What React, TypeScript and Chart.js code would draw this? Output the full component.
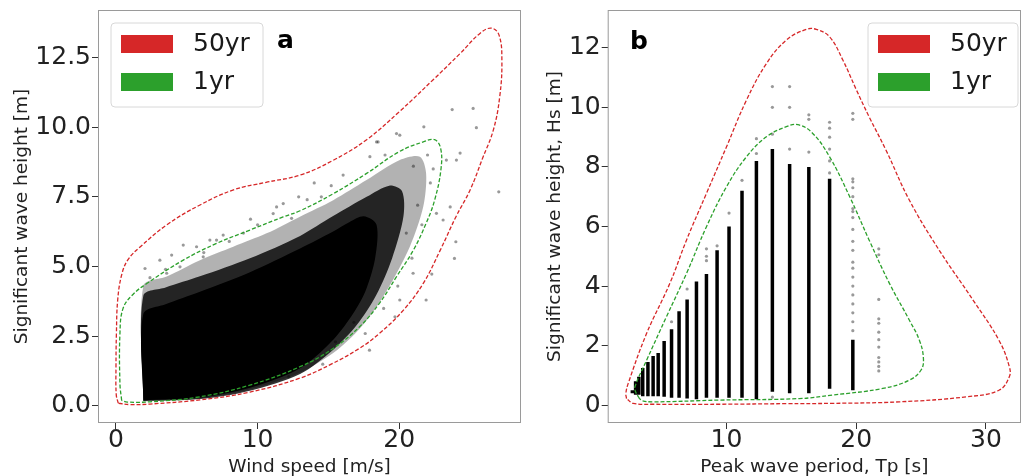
import React, { useEffect, useRef } from "react";
import { Chart, registerables } from "chart.js";

Chart.register(...registerables);

type P = [number, number];

const FONT = "'DejaVu Sans', sans-serif";
const RED = "#d62728";
const GREEN = "#2ca02c";
const LEGEND_LABELS = ["50yr", "1yr"];

// ---------- Panel a: wind speed vs Hs ----------
const A_X_TICKS = [0, 10, 20];
const A_Y_TICKS = [0, 2.5, 5, 7.5, 10, 12.5];
const A_X_TITLE = "Wind speed [m/s]";
const A_Y_TITLE = "Significant wave height [m]";
const A_LABEL = "a";

const A_50YR: P[] = [
  [0.16, 0.1], [0.02, 0.4], [0.0, 1.4], [0.03, 2.6], [0.12, 3.8], [0.4, 4.7], [0.85, 5.25],
  [1.7, 5.7], [3.6, 6.5], [5.9, 7.2], [8.3, 7.75], [10.6, 8.02], [13.0, 8.28], [15.3, 8.8],
  [17.7, 9.55], [20.0, 10.55], [22.4, 11.7], [24.3, 12.64], [25.7, 13.36], [26.5, 13.55],
  [27.05, 13.3], [27.25, 12.4], [27.1, 11.1], [26.65, 9.9], [25.9, 8.9], [25.0, 7.74],
  [24.0, 6.78], [22.9, 5.59], [21.7, 4.4], [20.3, 3.44], [18.6, 2.6], [17.2, 2.07],
  [15.2, 1.5], [13.0, 1.0], [9.46, 0.5], [5.93, 0.22], [2.4, 0.07], [1.0, 0.05], [0.16, 0.1],
];

const A_1YR: P[] = [
  [0.4, 0.2], [0.28, 0.8], [0.28, 2.6], [0.5, 3.5], [1.2, 4.0], [2.2, 4.4], [4.75, 5.23],
  [7.1, 5.83], [9.46, 6.31], [11.8, 6.78], [13.0, 7.0], [15.3, 7.6], [17.7, 8.34], [20.0, 9.12],
  [21.7, 9.47], [22.5, 9.55], [22.92, 9.25], [22.95, 8.5], [22.5, 7.38], [21.9, 6.55],
  [21.0, 5.59], [19.8, 4.63], [18.6, 3.68], [17.2, 2.84], [15.3, 2.05], [13.0, 1.41], [9.46, 0.75],
  [5.93, 0.33], [2.4, 0.15], [0.8, 0.14], [0.4, 0.2],
];

// densest part of the point cloud
const A_CLOUD_CORE: P[] = [
  [1.93, 0.2], [1.93, 3.3], [3.5, 3.65], [5.93, 4.1], [9.46, 4.8], [13.0, 5.65], [15.3, 6.25],
  [16.5, 6.6], [17.5, 6.8], [18.4, 6.5], [18.3, 5.3], [17.6, 4.1], [16.6, 3.2], [15.2, 2.3],
  [13.0, 1.35], [9.46, 0.65], [5.93, 0.3], [1.93, 0.2],
];
// medium density fringe
const A_CLOUD_MID: P[] = [
  [1.93, 0.18], [1.93, 3.95], [3.5, 4.25], [5.93, 4.65], [9.46, 5.3], [13.0, 6.1], [15.3, 6.8],
  [17.7, 7.5], [19.3, 7.9], [20.2, 7.7], [20.3, 6.8], [19.5, 5.3], [18.4, 4.0], [17.0, 2.9],
  [15.3, 2.0], [13.0, 1.15], [9.46, 0.55], [5.93, 0.25], [1.93, 0.18],
];
// sparse outer fringe
const A_CLOUD_OUTER: P[] = [
  [1.93, 0.16], [1.93, 4.3], [3.58, 4.64], [5.93, 5.23], [8.28, 5.71], [10.63, 6.19],
  [12.99, 6.79], [15.34, 7.38], [17.69, 8.1], [20.04, 8.82], [21.46, 8.94], [21.9, 8.34],
  [21.7, 7.15], [20.75, 5.71], [19.2, 4.2], [17.6, 3.0], [15.6, 2.0], [13.0, 1.2],
  [9.46, 0.6], [5.93, 0.27], [1.93, 0.16],
];
// isolated points
const A_SPARSE: P[] = [
  [23.74, 10.63], [25.22, 10.67], [25.45, 9.98], [21.74, 10.01], [27.03, 7.68], [24.0, 5.89],
  [23.9, 5.29], [22.3, 4.73], [21.9, 3.8], [23.6, 7.14], [24.3, 9.07], [24.04, 8.82],
  [19.81, 9.77], [20.04, 9.71], [18.51, 9.47], [17.93, 8.94], [16.04, 8.28], [23.33, 8.82],
  [23.1, 6.67], [22.63, 6.91], [18.4, 9.47], [20.98, 4.76], [20.04, 3.8], [17.9, 2.0],
  [19.7, 3.2], [2.05, 4.93], [3.1, 5.23], [3.93, 5.41], [4.75, 5.77], [5.69, 5.71], [6.63, 5.95],
  [7.57, 6.13], [3.58, 4.76], [4.52, 4.99], [6.16, 5.35], [7.1, 5.95],
  [11.1, 6.9], [11.34, 7.14], [11.81, 7.26], [12.4, 6.73], [9.0, 6.2], [10.0, 6.5],
  [13.5, 7.4], [14.5, 7.5], [15.2, 7.9], [19.0, 9.0], [21.0, 8.6], [22.2, 8.0], [21.3, 7.2],
  [20.5, 6.2], [16.8, 3.0], [15.5, 2.3], [13.5, 1.6], [11.0, 1.0], [2.4, 4.6], [3.5, 4.9],
  [6.2, 5.5], [8.0, 5.9], [22.0, 9.0], [22.4, 8.5], [21.6, 6.5], [20.9, 5.3], [19.9, 4.3],
  [18.9, 3.5], [17.6, 2.6], [14.6, 1.5], [12.2, 1.05], [9.5, 6.7], [12.9, 7.5], [14.0, 8.0],
];

// ---------- Panel b: Tp vs Hs ----------
const B_X_TICKS = [10, 20, 30];
const B_Y_TICKS = [0, 2, 4, 6, 8, 10, 12];
const B_X_TITLE = "Peak wave period, Tp [s]";
const B_Y_TITLE = "Significant wave height, Hs [m]";
const B_LABEL = "b";

const B_COL_TP = [2.75, 3.0, 3.25, 3.55, 3.95, 4.35, 4.74, 5.2, 5.77, 6.35, 6.97, 7.69, 8.46, 9.28, 10.2, 11.2, 12.31, 13.54, 14.87, 16.35, 17.95, 19.74];
const B_COL_LO = [0.4, 0.35, 0.35, 0.3, 0.3, 0.3, 0.3, 0.28, 0.25, 0.25, 0.22, 0.2, 0.25, 0.25, 0.25, 0.25, 0.2, 0.45, 0.4, 0.4, 0.55, 0.5];
const B_COL_HI = [0.5, 0.8, 0.95, 1.25, 1.45, 1.65, 1.75, 2.15, 2.55, 3.15, 3.55, 4.15, 4.4, 5.2, 6.0, 7.2, 8.2, 8.6, 8.1, 8.0, 7.6, 2.2];

const B_SPARSE: P[] = [
  [5.77, 2.8], [6.97, 3.9], [8.46, 4.85], [8.46, 5.0], [8.46, 5.25], [9.28, 5.35], [10.2, 6.45],
  [11.2, 7.55], [12.31, 8.45], [12.31, 8.95], [13.54, 9.1], [13.54, 10.0], [13.54, 10.7],
  [13.54, 0.27], [14.87, 8.6], [14.87, 10.0], [14.87, 10.7], [16.35, 8.5], [16.35, 9.6],
  [16.35, 9.75], [17.95, 7.8], [17.95, 8.2], [17.95, 8.6], [17.95, 9.0], [17.95, 9.3],
  [17.95, 9.5], [19.74, 9.8], [19.74, 9.6], [19.74, 7.6], [19.74, 7.5], [19.74, 7.3],
  [19.74, 7.0], [19.74, 6.6], [19.74, 6.5], [19.74, 6.3], [19.74, 5.9], [19.74, 5.5],
  [19.74, 5.2], [19.74, 4.8], [19.74, 4.6], [19.74, 4.3], [19.74, 4.0], [19.74, 3.7],
  [19.74, 3.4], [19.74, 3.1], [19.74, 2.8], [19.74, 2.5], [21.74, 5.25], [21.74, 5.05],
  [21.74, 3.55], [21.74, 2.9], [21.74, 2.75], [21.74, 2.45], [21.74, 2.2], [21.74, 1.95],
  [21.74, 1.6], [21.74, 1.45], [21.74, 1.3], [21.74, 1.15],
];

const B_50YR: P[] = [
  [2.3, 0.22], [2.25, 0.39], [2.43, 0.73], [3.85, 2.41], [5.64, 4.09], [6.92, 5.54], [8.46, 7.11],
  [10.0, 8.67], [11.54, 10.24], [13.08, 11.47], [14.62, 12.26], [16.15, 12.62], [16.92, 12.62],
  [17.95, 12.37], [18.97, 11.59], [20.0, 10.6], [21.0, 9.68], [22.3, 8.56], [24.1, 6.88],
  [26.4, 5.2], [29.0, 3.53], [31.0, 2.18], [31.8, 1.29], [31.8, 0.95], [31.0, 0.5], [28.5, 0.28],
  [23.3, 0.11], [18.2, 0.06], [14.6, 0.05], [9.5, 0.03], [4.35, 0.03], [2.82, 0.06], [2.3, 0.22],
];

const B_1YR: P[] = [
  [3.3, 0.22], [3.0, 0.45], [2.95, 0.62], [3.85, 1.51], [5.38, 2.97], [6.92, 4.42], [8.46, 5.99],
  [10.0, 7.33], [11.54, 8.34], [13.08, 9.01], [14.62, 9.35], [15.5, 9.42], [16.6, 9.15],
  [17.95, 8.34], [19.5, 7.0], [21.0, 5.54], [22.56, 4.09], [24.1, 2.85], [24.87, 2.18],
  [25.18, 1.57], [25.0, 1.18], [24.1, 0.84], [22.05, 0.56], [18.2, 0.34], [15.6, 0.22],
  [9.5, 0.17], [4.35, 0.11], [3.5, 0.15], [3.3, 0.22],
];

// ---------- helpers ----------
const toXY = (arr: P[]) => arr.map(([x, y]) => ({ x, y }));

const contour = (label: string, pts: P[], color: string) => ({
  label,
  data: toXY(pts),
  showLine: true,
  borderColor: color,
  backgroundColor: color,
  borderWidth: 1.3,
  borderDash: [4, 2],
  pointRadius: 0,
  tension: 0.4,
  fill: false,
  order: 0,
});

const cloud = (pts: P[], color: string, order: number) => ({
  label: "_cloud",
  data: toXY(pts),
  showLine: true,
  borderWidth: 0,
  borderColor: "rgba(0,0,0,0)",
  backgroundColor: color,
  pointRadius: 0,
  tension: 0.3,
  fill: "shape",
  order,
});

const sparse = (pts: P[], order: number) => ({
  label: "_pts",
  data: toXY(pts),
  showLine: false,
  pointRadius: 1.6,
  pointBorderWidth: 0,
  pointBackgroundColor: "rgba(0,0,0,0.4)",
  backgroundColor: "rgba(0,0,0,0.4)",
  order,
});

const decorPlugin = {
  id: "decor",
  afterDraw(chart: any, _args: any, opts: any) {
    const { ctx, chartArea: a } = chart;
    ctx.save();
    ctx.strokeStyle = "#9a9a9a";
    ctx.lineWidth = 1;
    ctx.strokeRect(a.left + 0.5, a.top + 0.5, a.right - a.left - 1, a.bottom - a.top - 1);

    const lg = opts.legend;
    const r = 4;
    ctx.beginPath();
    ctx.moveTo(lg.x + r, lg.y);
    ctx.arcTo(lg.x + lg.w, lg.y, lg.x + lg.w, lg.y + lg.h, r);
    ctx.arcTo(lg.x + lg.w, lg.y + lg.h, lg.x, lg.y + lg.h, r);
    ctx.arcTo(lg.x, lg.y + lg.h, lg.x, lg.y, r);
    ctx.arcTo(lg.x, lg.y, lg.x + lg.w, lg.y, r);
    ctx.closePath();
    ctx.fillStyle = "rgba(255,255,255,0.85)";
    ctx.fill();
    ctx.strokeStyle = "#d8d8d8";
    ctx.stroke();

    const items = chart.data.datasets.filter((d: any) => LEGEND_LABELS.includes(d.label));
    items.forEach((d: any, i: number) => {
      const py = lg.y + 12 + i * 38;
      ctx.fillStyle = d.borderColor;
      ctx.fillRect(lg.x + 10, py, 52, 18);
      ctx.fillStyle = "#1a1a1a";
      ctx.font = `25px ${FONT}`;
      ctx.textBaseline = "middle";
      ctx.textAlign = "left";
      ctx.fillText(d.label, lg.textX, py + 9);
    });

    ctx.fillStyle = "#000";
    ctx.font = `bold 25px ${FONT}`;
    ctx.textBaseline = "alphabetic";
    ctx.textAlign = "left";
    ctx.fillText(opts.letter, opts.letterX, opts.letterY);
    ctx.restore();
  },
};

function makeConfig(p: {
  datasets: any[];
  xMin: number; xMax: number; yMin: number; yMax: number;
  xTicks: number[]; yTicks: number[]; yFmt: (v: number) => string;
  xTitle: string; yTitle: string;
  yAxisWidth: number; yTitlePad: number; padRight: number;
  legend: any; letter: string; letterX: number; letterY: number;
}) {
  return {
    type: "scatter",
    data: { datasets: p.datasets },
    plugins: [decorPlugin],
    options: {
      animation: false,
      responsive: false,
      devicePixelRatio: 1,
      layout: { autoPadding: false, padding: { left: 0, right: p.padRight, top: 10, bottom: 0 } },
      plugins: {
        legend: { display: false },
        tooltip: { enabled: false },
        decor: { legend: p.legend, letter: p.letter, letterX: p.letterX, letterY: p.letterY },
      },
      scales: {
        x: {
          type: "linear",
          min: p.xMin,
          max: p.xMax,
          afterBuildTicks: (s: any) => { s.ticks = p.xTicks.map((v) => ({ value: v })); },
          afterFit: (s: any) => { s.height = 53; s.paddingLeft = 0; s.paddingRight = 0; },
          ticks: {
            autoSkip: false, maxRotation: 0, padding: -1, color: "#222",
            font: { family: FONT, size: 25, lineHeight: 1 },
            callback: (v: any) => String(v),
          },
          grid: { drawOnChartArea: false, drawTicks: true, tickLength: 6, tickColor: "#333", tickWidth: 1 },
          border: { display: false },
          title: {
            display: true, text: p.xTitle, color: "#222",
            font: { family: FONT, size: 18.5, lineHeight: 1 }, padding: { top: 0, bottom: 0 },
          },
        },
        y: {
          type: "linear",
          min: p.yMin,
          max: p.yMax,
          afterBuildTicks: (s: any) => { s.ticks = p.yTicks.map((v) => ({ value: v })); },
          afterFit: (s: any) => { s.width = p.yAxisWidth; s.paddingTop = 0; s.paddingBottom = 0; },
          ticks: {
            autoSkip: false, padding: 1, color: "#222",
            font: { family: FONT, size: 25, lineHeight: 1 },
            callback: (v: any) => p.yFmt(Number(v)),
          },
          grid: { drawOnChartArea: false, drawTicks: true, tickLength: 6, tickColor: "#333", tickWidth: 1 },
          border: { display: false },
          title: {
            display: true, text: p.yTitle, color: "#222",
            font: { family: FONT, size: 18.5, lineHeight: 1 }, padding: { top: p.yTitlePad, bottom: 0 },
          },
        },
      },
    },
  };
}

const configA = makeConfig({
  datasets: [
    contour(LEGEND_LABELS[0], A_50YR, RED),
    contour(LEGEND_LABELS[1], A_1YR, GREEN),
    sparse(A_SPARSE, 1),
    cloud(A_CLOUD_CORE, "#000", 2),
    cloud(A_CLOUD_MID, "rgba(0,0,0,0.8)", 3),
    cloud(A_CLOUD_OUTER, "rgba(0,0,0,0.3)", 4),
  ],
  xMin: -1.27, xMax: 28.6, yMin: -0.61, yMax: 14.2,
  xTicks: A_X_TICKS, yTicks: A_Y_TICKS, yFmt: (v) => v.toFixed(1),
  xTitle: A_X_TITLE, yTitle: A_Y_TITLE,
  yAxisWidth: 98, yTitlePad: 12.5, padRight: 1,
  legend: { x: 111, y: 23, w: 152, h: 84, textX: 193 },
  letter: A_LABEL, letterX: 277, letterY: 48,
});

const colData = B_COL_TP.flatMap((tp, i) => [
  { x: tp, y: B_COL_LO[i] },
  { x: tp, y: B_COL_HI[i] },
  { x: tp, y: null },
]);

const configB = makeConfig({
  datasets: [
    contour(LEGEND_LABELS[0], B_50YR, RED),
    contour(LEGEND_LABELS[1], B_1YR, GREEN),
    sparse(B_SPARSE, 1),
    {
      label: "_cols",
      data: colData,
      showLine: true,
      spanGaps: false,
      borderColor: "#000",
      borderWidth: 3.5,
      borderCapStyle: "butt",
      pointRadius: 0,
      tension: 0,
      order: 2,
    },
  ],
  xMin: 0.85, xMax: 32.7, yMin: -0.6, yMax: 13.27,
  xTicks: B_X_TICKS, yTicks: B_Y_TICKS, yFmt: (v) => String(v),
  xTitle: B_X_TITLE, yTitle: B_Y_TITLE,
  yAxisWidth: 85.7, yTitlePad: 24, padRight: 0,
  legend: { x: 346, y: 23, w: 150, h: 84, textX: 428 },
  letter: B_LABEL, letterX: 108, letterY: 49,
});

function Panel({ left, width, config }: { left: number; width: number; config: any }) {
  const ref = useRef<HTMLCanvasElement>(null);
  useEffect(() => {
    const chart = new Chart(ref.current as HTMLCanvasElement, config);
    return () => chart.destroy();
  }, [config]);
  return (
    <canvas
      ref={ref}
      width={width}
      height={476}
      style={{ position: "absolute", left, top: 0, width, height: 476 }}
    />
  );
}

export default function App() {
  return (
    <div style={{ position: "absolute", left: 0, top: 0, width: 1021, height: 476, background: "#fff", overflow: "hidden" }}>
      <Panel left={0} width={522} config={configA} />
      <Panel left={522} width={499} config={configB} />
    </div>
  );
}
